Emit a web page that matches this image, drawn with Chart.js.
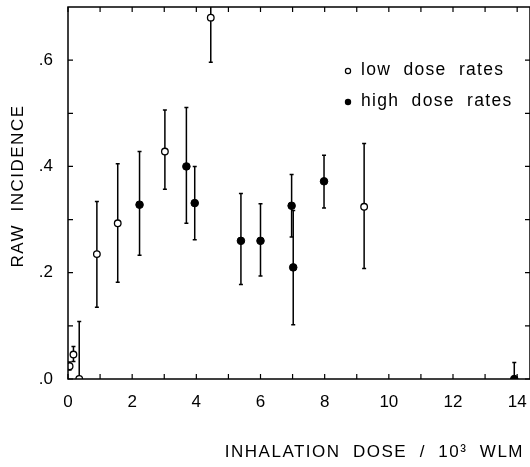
<!DOCTYPE html>
<html lang="en">
<head>
<meta charset="UTF-8">
<title>Raw incidence vs inhalation dose</title>
<script src="https://cdn.jsdelivr.net/npm/chart.js@4.4.0/dist/chart.umd.min.js"></script>
<style>
  body { margin: 0; background: #fff; }
  canvas { display: block; }
</style>
</head>
<body>
<canvas id="chart" width="530" height="467"></canvas>
<script>
// low dose rates (open circles)
var lowX  = [0.05, 0.17, 0.35, 0.9, 1.55, 3.02, 4.45, 9.23];
var lowY  = [0.024, 0.046, 0.0, 0.235, 0.293, 0.428, 0.680, 0.324];
var lowLo = [0.017, 0.033, 0.0, 0.135, 0.182, 0.357, 0.596, 0.208];
var lowHi = [0.032, 0.061, 0.108, 0.334, 0.405, 0.506, 0.72, 0.443];

// high dose rates (filled circles)
var highX  = [2.23, 3.69, 3.95, 5.39, 6.0, 6.97, 7.02, 7.98, 13.91];
var highY  = [0.328, 0.40, 0.331, 0.260, 0.260, 0.326, 0.210, 0.372, 0.0];
var highLo = [0.233, 0.293, 0.262, 0.178, 0.194, 0.267, 0.102, 0.322, 0.0];
var highHi = [0.428, 0.511, 0.40, 0.349, 0.33, 0.385, 0.317, 0.421, 0.031];

// tick positions; labels only on every second one
var xTicks = [0, 1, 2, 3, 4, 5, 6, 7, 8, 9, 10, 11, 12, 13, 14];
var xLabels = ["0", "", "2", "", "4", "", "6", "", "8", "", "10", "", "12", "", "14"];
var yTicks = [0, 0.1, 0.2, 0.3, 0.4, 0.5, 0.6];
var yLabels = [".0", "", ".2", "", ".4", "", ".6"];

var xTitle = "INHALATION  DOSE  /  10\u00B3  WLM";
var yTitle = "RAW  INCIDENCE";
var legendLabels = ["low  dose  rates", "high  dose  rates"];

var FONT = "'Liberation Sans', Arial, sans-serif";

function pts(xs, ys, lo, hi) {
  var out = [];
  for (var i = 0; i < xs.length; i++) {
    out.push({ x: xs[i], y: ys[i], lo: lo[i], hi: hi[i] });
  }
  return out;
}

// error bars, frame, inward ticks, legend and titles
var decor = {
  id: 'decor',
  beforeDatasetsDraw: function(chart) {
    var ctx = chart.ctx, xs = chart.scales.x, ys = chart.scales.y, a = chart.chartArea;
    ctx.save();
    ctx.beginPath();
    ctx.rect(a.left, a.top, a.right - a.left, a.bottom - a.top);
    ctx.clip();
    ctx.strokeStyle = '#000';
    ctx.lineWidth = 1.5;
    chart.data.datasets.forEach(function(ds) {
      ds.data.forEach(function(p) {
        var px = xs.getPixelForValue(p.x);
        var y1 = ys.getPixelForValue(p.lo), y2 = ys.getPixelForValue(p.hi);
        ctx.beginPath();
        ctx.moveTo(px, y1); ctx.lineTo(px, y2);
        if (p.hi > p.y) { ctx.moveTo(px - 2, y2); ctx.lineTo(px + 2, y2); }
        if (p.lo < p.y) { ctx.moveTo(px - 2, y1); ctx.lineTo(px + 2, y1); }
        ctx.stroke();
      });
    });
    ctx.restore();
  },
  afterDraw: function(chart) {
    var ctx = chart.ctx, xs = chart.scales.x, ys = chart.scales.y, a = chart.chartArea;
    ctx.save();
    ctx.strokeStyle = '#000';
    ctx.lineWidth = 1.5;
    ctx.strokeRect(a.left, a.top, a.right - a.left, a.bottom - a.top);
    ctx.lineWidth = 1.2;
    ctx.beginPath();
    xs.ticks.forEach(function(t) {
      var px = xs.getPixelForValue(t.value);
      ctx.moveTo(px, a.bottom); ctx.lineTo(px, a.bottom - 5);
      ctx.moveTo(px, a.top); ctx.lineTo(px, a.top + 5);
    });
    ys.ticks.forEach(function(t) {
      var py = ys.getPixelForValue(t.value);
      ctx.moveTo(a.left, py); ctx.lineTo(a.left + 5, py);
      ctx.moveTo(a.right, py); ctx.lineTo(a.right - 5, py);
    });
    ctx.stroke();

    // legend
    ctx.fillStyle = '#000';
    ctx.font = '17.5px ' + FONT;
    ctx.letterSpacing = '1.3px';
    ctx.textBaseline = 'middle';
    ctx.textAlign = 'left';
    var lx = 348, ly = [70, 101];
    ctx.lineWidth = 1.2;
    ctx.beginPath(); ctx.arc(lx, ly[0] + 1, 2.6, 0, Math.PI * 2);
    ctx.fillStyle = '#fff'; ctx.fill(); ctx.stroke();
    ctx.fillStyle = '#000';
    ctx.beginPath(); ctx.arc(lx, ly[1] + 1, 3.2, 0, Math.PI * 2); ctx.fill();
    ctx.fillText(legendLabels[0], 361, ly[0]);
    ctx.fillText(legendLabels[1], 361, ly[1]);

    // axis titles
    ctx.font = '17px ' + FONT;
    ctx.letterSpacing = '1.5px';
    ctx.textAlign = 'right';
    ctx.fillText(xTitle, 524, 452);
    ctx.translate(18, 186);
    ctx.rotate(-Math.PI / 2);
    ctx.textAlign = 'center';
    ctx.fillText(yTitle, 0, 0);
    ctx.restore();
  }
};

new Chart(document.getElementById('chart'), {
  type: 'scatter',
  data: {
    datasets: [
      {
        label: 'low dose rates',
        data: pts(lowX, lowY, lowLo, lowHi),
        pointRadius: 3.3,
        pointBorderWidth: 1.3,
        borderColor: '#000',
        backgroundColor: '#fff'
      },
      {
        label: 'high dose rates',
        data: pts(highX, highY, highLo, highHi),
        pointRadius: 3.8,
        pointBorderWidth: 1,
        borderColor: '#000',
        backgroundColor: '#000'
      }
    ]
  },
  options: {
    responsive: false,
    animation: false,
    layout: { autoPadding: false, padding: { top: 7, right: 0, left: 0, bottom: 0 } },
    plugins: { legend: { display: false }, tooltip: { enabled: false } },
    scales: {
      x: {
        type: 'linear',
        min: 0,
        max: 14.4,
        grid: { display: false },
        border: { display: false },
        afterBuildTicks: function(s) {
          s.ticks = xTicks.map(function(v) { return { value: v }; });
        },
        ticks: {
          autoSkip: false,
          maxRotation: 0,
          padding: 5,
          color: '#000',
          font: { size: 17, family: FONT },
          callback: function(v, i) { return xLabels[i]; }
        },
        afterFit: function(s) {
          s.height = 88;
          s.paddingLeft = 0; s.paddingRight = 0;
        }
      },
      y: {
        min: 0,
        max: 0.7,
        grid: { display: false },
        border: { display: false },
        afterBuildTicks: function(s) {
          s.ticks = yTicks.map(function(v) { return { value: v }; });
        },
        ticks: {
          autoSkip: false,
          padding: 7,
          color: '#000',
          font: { size: 17, family: FONT },
          callback: function(v, i) { return yLabels[i]; }
        },
        afterFit: function(s) {
          s.width = 68;
          s.paddingTop = 0; s.paddingBottom = 0;
        }
      }
    }
  },
  plugins: [decor]
});
</script>
</body>
</html>
